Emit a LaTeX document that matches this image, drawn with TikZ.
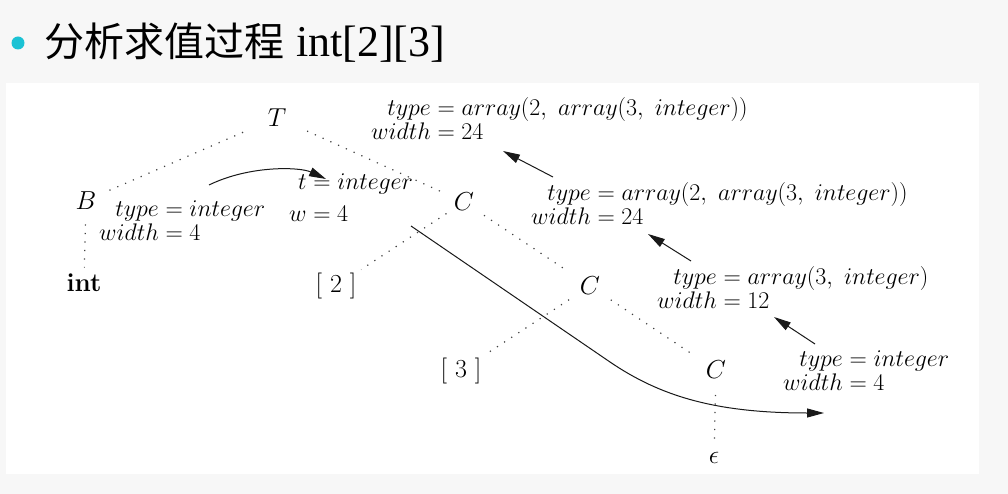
\RequirePackage{fix-cm}
\documentclass[tikz,border=0pt]{standalone}
\usepackage{fontspec}
\newfontfamily\cjk{Noto Sans CJK SC}
\newfontfamily\titlelat{Liberation Serif}
\usetikzlibrary{calc,arrows.meta}
\definecolor{bul}{HTML}{1BC2D4}
\begin{document}
\begin{tikzpicture}[x=1pt,y=-1pt,
  lbl/.style={inner sep=0pt, font=\fontsize{26}{28}\selectfont},
  attr/.style={inner sep=0pt, anchor=base west, font=\fontsize{24}{24}\selectfont},
  dotl/.style={line width=1.2pt, dash pattern=on 1.2pt off 7.3pt, black!75},
  arr/.style={line width=1pt, black!90, -{Triangle[length=17pt,width=9pt]}},
]
\useasboundingbox (0,0) rectangle (1008,494);
\fill[black!3] (0,0) rectangle (1008,494);
\fill[white] (6,83) rectangle (979,474);

% title
\fill[bul] (18,43) circle (6.5);
\node[inner sep=0pt, anchor=base west] (title) at (44,57)
  {\fontsize{40}{44}\selectfont\cjk 分析求值过程\hspace{0.3em}{\titlelat\fontsize{44}{46}\selectfont int[2][3]}};

% tree nodes
\node[lbl] (T)  at (277,117.5) {$T$};
\node[lbl] (B)  at (86,200.5)  {$B$};
\node[lbl] (I)  at (84,282.5)  {\textbf{int}};
\node[lbl] (C1) at (464,202)   {$C$};
\node[lbl] (L2) at (336,286)   {[ 2 ]};
\node[lbl] (C2) at (590,286)   {$C$};
\node[lbl] (L3) at (461,370.5) {[ 3 ]};
\node[lbl] (C3) at (716,370)   {$C$};
\node[lbl] (E)  at (714,457.5) {$\epsilon$};

% dotted tree edges
\draw[dotl] ($(T)!37pt!(B)$) -- ($(B)!24pt!(T)$);
\draw[dotl] ($(T)!33pt!(C1)$) -- ($(C1)!22pt!(T)$);
\draw[dotl] ($(B)!24pt!(I)$) -- ($(I)!15pt!(B)$);
\draw[dotl] ($(C1)!21pt!(L2)$) -- ($(L2)!30pt!(C1)$);
\draw[dotl] ($(C1)!24pt!(C2)$) -- ($(C2)!30pt!(C1)$);
\draw[dotl] ($(C2)!25pt!(L3)$) -- ($(L3)!33pt!(C2)$);
\draw[dotl] ($(C2)!25pt!(C3)$) -- ($(C3)!31pt!(C2)$);
\draw[dotl] ($(C3)!25pt!(E)$) -- ($(E)!17pt!(C3)$);

% attribute annotations
\node[attr] (ab) at (99,217)
  {\begin{tabular}[t]{@{}r@{}l@{}}$type$ & ${}= integer$\\ $width$ & ${}= 4$\end{tabular}};
\node[attr] (at) at (289,190)
  {\begin{tabular}[t]{@{}r@{}l@{}}$t$ & ${}= integer$\\[8pt] $w$ & ${}= 4$\end{tabular}};
\node[attr] (a1) at (371,116)
  {\begin{tabular}[t]{@{}r@{}l@{}}$type$ & ${}= array(2,\ array(3,\ integer))$\\ $width$ & ${}= 24$\end{tabular}};
\node[attr] (a2) at (531,201)
  {\begin{tabular}[t]{@{}r@{}l@{}}$type$ & ${}= array(2,\ array(3,\ integer))$\\ $width$ & ${}= 24$\end{tabular}};
\node[attr] (a3) at (657,284)
  {\begin{tabular}[t]{@{}r@{}l@{}}$type$ & ${}= array(3,\ integer)$\\ $width$ & ${}= 12$\end{tabular}};
\node[attr] (a4) at (783,366)
  {\begin{tabular}[t]{@{}r@{}l@{}}$type$ & ${}= integer$\\ $width$ & ${}= 4$\end{tabular}};

% arrow end points
\coordinate (cs) at (209,185);
\coordinate (ce) at (326,179);
\coordinate (s2) at (553,177);
\coordinate (e2) at (503,151);
\coordinate (s3) at (691,261);
\coordinate (e3) at (648,234);
\coordinate (s4) at (815,344);
\coordinate (e4) at (774,317);
\coordinate (ls) at (411,226);
\coordinate (le) at (824,413);

% arrows
\draw[arr] (cs) .. controls (250,165) and (300,167) .. (ce);
\draw[arr] (s2) -- (e2);
\draw[arr] (s3) -- (e3);
\draw[arr] (s4) -- (e4);
\draw[arr] (ls) -- (610,362) .. controls (660,396) and (715,413) .. (le);
\end{tikzpicture}
\end{document}
